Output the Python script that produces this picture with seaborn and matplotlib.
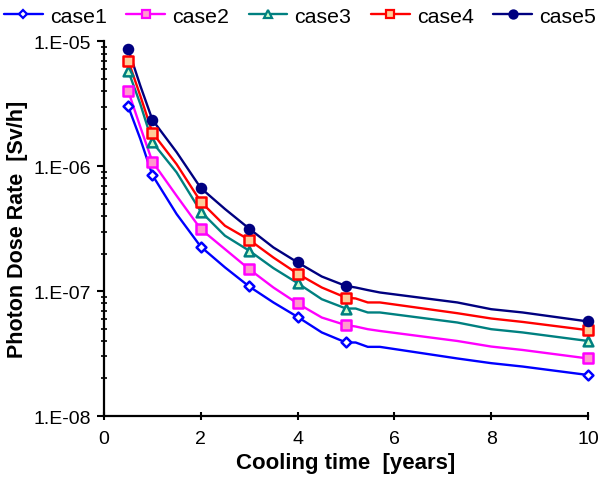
import numpy as np
import pandas as pd
import matplotlib
matplotlib.use("Agg")
import matplotlib.pyplot as plt
import seaborn as sns
from matplotlib.lines import Line2D
from matplotlib.ticker import LogLocator, FuncFormatter, NullFormatter

sns.set_theme(style="white")
plt.rcParams['font.family'] = ['Liberation Sans', 'DejaVu Sans']
plt.rcParams['text.color'] = 'black'
plt.rcParams['axes.labelcolor'] = 'black'
plt.rcParams['xtick.color'] = 'black'
plt.rcParams['ytick.color'] = 'black'

# cooling time grid of the line data [years]
times = [0.5, 0.75, 1, 1.5, 2, 2.5, 3, 3.5, 4, 4.5, 5, 5.2, 5.45, 5.7, 7.3, 8.0, 8.65, 10]
# times where markers are drawn
marker_times = [0.5, 1, 2, 3, 4, 5, 10]

case1 = [3.02e-6, 1.66e-6, 8.51e-7, 4.15e-7, 2.27e-7, 1.55e-7, 1.09e-7, 8.12e-8, 6.22e-8,
         4.67e-8, 3.88e-8, 3.88e-8, 3.58e-8, 3.58e-8, 2.89e-8, 2.65e-8, 2.49e-8, 2.13e-8]
case2 = [4.02e-6, 2.07e-6, 1.09e-6, 5.81e-7, 3.14e-7, 2.17e-7, 1.50e-7, 1.07e-7, 7.97e-8,
         6.15e-8, 5.34e-8, 5.21e-8, 4.96e-8, 4.80e-8, 3.99e-8, 3.60e-8, 3.38e-8, 2.89e-8]
case3 = [5.84e-6, 3.16e-6, 1.56e-6, 8.95e-7, 4.34e-7, 2.78e-7, 2.11e-7, 1.53e-7, 1.16e-7,
         8.62e-8, 7.26e-8, 7.26e-8, 6.75e-8, 6.75e-8, 5.61e-8, 4.96e-8, 4.67e-8, 3.99e-8]
case4 = [7.03e-6, 3.68e-6, 1.86e-6, 1.04e-6, 5.20e-7, 3.34e-7, 2.58e-7, 1.86e-7, 1.38e-7,
         1.07e-7, 8.87e-8, 8.74e-8, 8.12e-8, 8.12e-8, 6.66e-8, 6.04e-8, 5.67e-8, 4.87e-8]
case5 = [8.72e-6, 4.43e-6, 2.36e-6, 1.30e-6, 6.70e-7, 4.55e-7, 3.17e-7, 2.24e-7, 1.70e-7,
         1.31e-7, 1.10e-7, 1.07e-7, 1.02e-7, 9.76e-8, 8.12e-8, 7.17e-8, 6.75e-8, 5.72e-8]

names = ["case1", "case2", "case3", "case4", "case5"]
series = [case1, case2, case3, case4, case5]

edge_colors = ["#0000FF", "#FF00FF", "#008080", "#FF0000", "#000080"]
face_colors = ["#FFFFFF", "#FF99CC", "#CCFFCC", "#FFCC99", "#000080"]
markers = ["D", "s", "^", "s", "o"]
msizes = [5.0, 6.5, 7.0, 6.5, 6.5]

rows = []
for n, s in zip(names, series):
    for t, v in zip(times, s):
        rows.append({"time": t, "rate": v, "case": n})
df = pd.DataFrame(rows)
dfm = df[df["time"].isin(marker_times)]

fig = plt.figure(figsize=(6.0, 4.85), dpi=100)
ax = fig.add_axes([0.1733, 0.1402, 0.8067, 0.7722])

sns.lineplot(data=df, x="time", y="rate", hue="case", hue_order=names,
             palette=edge_colors, linewidth=1.7, legend=False, ax=ax, sort=True)
for n, ec, fc, m, ms in zip(names, edge_colors, face_colors, markers, msizes):
    sub = dfm[dfm["case"] == n]
    sns.scatterplot(data=sub, x="time", y="rate", marker=m, s=ms ** 2,
                    facecolor=fc, edgecolor=ec, linewidth=1.8, ax=ax, zorder=5,
                    legend=False, clip_on=False)

ax.set_yscale("log")
ax.set_xlim(0, 10)
ax.set_ylim(1e-8, 1e-5)
ax.set_xticks([0, 2, 4, 6, 8, 10])
ax.yaxis.set_major_locator(LogLocator(base=10, numticks=10))
ax.yaxis.set_minor_locator(LogLocator(base=10, subs=np.arange(2, 10), numticks=100))
ax.yaxis.set_minor_formatter(NullFormatter())
ax.yaxis.set_major_formatter(FuncFormatter(lambda v, p: "1.E%+03d" % int(round(np.log10(v)))))

for side in ["top", "right"]:
    ax.spines[side].set_visible(False)
for side in ["left", "bottom"]:
    ax.spines[side].set_linewidth(1.6)
    ax.spines[side].set_color("black")

ax.tick_params(axis="y", which="major", direction="out", length=5, width=1.5,
               labelsize=14, pad=4, color="black", labelcolor="black", left=True)
ax.tick_params(axis="y", which="minor", direction="inout", length=5, width=1.2,
               color="black", left=True)
ax.tick_params(axis="x", which="major", direction="inout", length=6, width=1.5,
               labelsize=14, pad=7, color="black", labelcolor="black", bottom=True)

ax.set_xlabel("Cooling time  [years]", fontsize=16, fontweight="bold", labelpad=4,
              color="black")
ax.set_ylabel("Photon Dose Rate  [Sv/h]", fontsize=15.5, fontweight="bold", labelpad=4,
              color="black")
ax.grid(False)

handles = [Line2D([0], [0], color=ec, lw=1.7, marker=m, markersize=ms * 0.9,
                  markerfacecolor=fc, markeredgecolor=ec, markeredgewidth=1.6)
           for ec, fc, m, ms in zip(edge_colors, face_colors, markers, msizes)]
leg = fig.legend(handles, names, loc="upper center", bbox_to_anchor=(0.5, 1.01), ncol=5,
                 frameon=False, fontsize=15.4, handlelength=1.8, handletextpad=0.33,
                 columnspacing=0.93, borderaxespad=0.2)
for t in leg.get_texts():
    t.set_color("black")

fig.savefig("out.png", dpi=100)
